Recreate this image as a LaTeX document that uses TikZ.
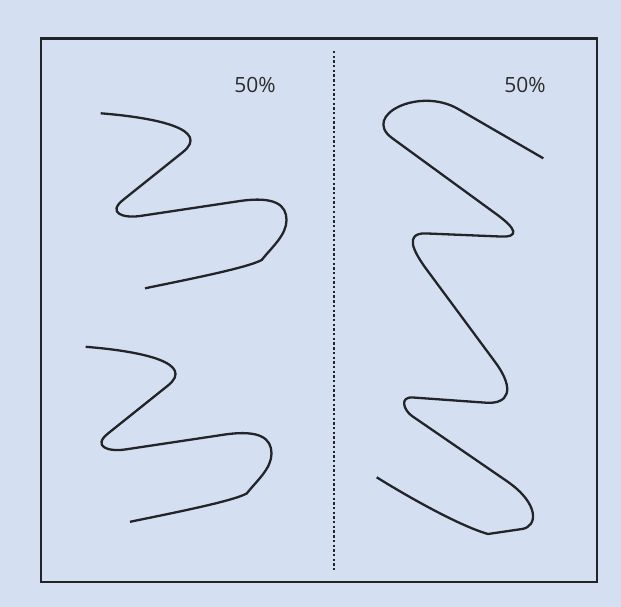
\documentclass[tikz,border=0pt]{standalone}
\usepackage{fontspec}
\setsansfont{Open Sans}
\usepackage{tikz}
\usetikzlibrary{positioning}
\definecolor{bgblue}{RGB}{212,224,241}
\definecolor{ink}{RGB}{34,36,40}
\definecolor{labelgray}{RGB}{45,45,45}

\begin{document}
\begin{tikzpicture}[x=1pt,y=-1pt,
    every node/.style={font=\sffamily\fontsize{21}{24}\selectfont,text=labelgray,inner sep=0pt},
    frame/.style={draw=ink,line width=2.4pt},
    divider/.style={draw=ink,line width=2.3pt,dash pattern=on 2.4pt off 2.3pt},
    wave/.style={draw=ink,line width=2.3pt,line cap=butt,line join=round}]
  \fill[bgblue] (0,0) rectangle (621,607);
  \useasboundingbox (0,0) rectangle (621,607);
  \draw[frame] (41.2,38.5) rectangle (596.7,582);
  \coordinate (divtop) at (334,51);
  \coordinate (divbot) at (334,572);
  \draw[divider] (divtop) -- (divbot);
  \node (pctleft) at (255,85) {50\%};
  \node (pctright) at (525,85) {50\%};
  % left half, same wave twice
  \foreach \dx/\dy in {0/0,-15/233.5}{
    \draw[wave,shift={(\dx,\dy)}] (100.7,113.3)
      .. controls (160,118) and (210,130) .. (183,152) -- (123,200)
      .. controls (107.4,212.5) and (122.2,218.5) .. (140,216) -- (240,201)
      .. controls (275,196) and (286.5,205) .. (286.5,220)
      .. controls (286.5,235) and (272,247) .. (261.7,260)
      .. controls (247,268) and (185,280) .. (145,288.3);
  }
  % right half
  \draw[wave] (543.3,158.3) -- (458,108.9)
    .. controls (419,86.4) and (361.4,115.5) .. (392,138) -- (497,214.6)
    .. controls (516.3,228.8) and (520,237.5) .. (500,236.5) -- (425,233.4)
    .. controls (405,233.5) and (412.1,249.9) .. (427,270) -- (495.1,362)
    .. controls (515.9,390.2) and (508,404.3) .. (486,402.7) -- (413,397.5)
    .. controls (399,396.5) and (403.8,410.3) .. (412,416) -- (506.8,481.1)
    .. controls (539.8,503.7) and (537.8,526.7) .. (522,529) -- (488,534)
    .. controls (460,526) and (410,498) .. (376.7,477.3);
\end{tikzpicture}
\end{document}
